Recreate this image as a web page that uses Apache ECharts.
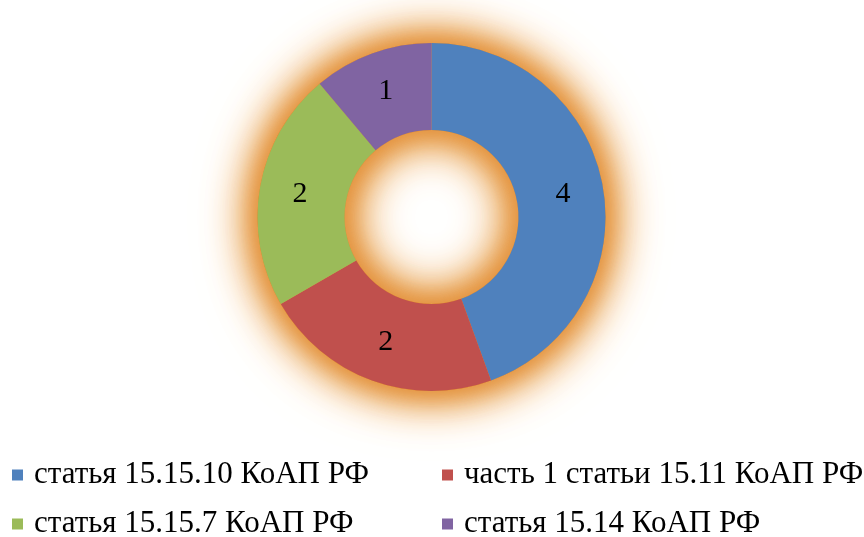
<!DOCTYPE html>
<html>
<head>
<meta charset="utf-8">
<script src="https://cdn.jsdelivr.net/npm/echarts@6/dist/echarts.min.js"></script>
<style>html,body{margin:0;padding:0;background:#fff;}#c{width:864px;height:537px;}</style>
</head>
<body>
<div id="c"></div>
<script>
const categories = ['статья 15.15.10 КоАП РФ', 'часть 1 статьи 15.11 КоАП РФ', 'статья 15.15.7 КоАП РФ', 'статья 15.14 КоАП РФ'];
const values = [4, 2, 2, 1];
const colors = ['#4F81BD', '#C0504D', '#9BBB59', '#8064A2'];

const chart = echarts.init(document.getElementById('c'));
const font = '"Liberation Serif", "Times New Roman", serif';
const legendPos = [[12, 459], [442, 459], [12, 508], [442, 508]];
const legends = categories.map((c, i) => ({
  data: [c], left: legendPos[i][0], top: legendPos[i][1], padding: 0,
  itemWidth: 11, itemHeight: 11, itemGap: 0, icon: 'rect',
  textStyle: { fontFamily: font, fontSize: 31, color: '#000', lineHeight: 32, padding: [0, 0, 0, 6] },
  selectedMode: false
}));
const glowRing = (blur, color) => ({
  type: 'pie', silent: true, z: 1, animation: false,
  center: [431.5, 217], radius: [87, 174], startAngle: 90, clockwise: true,
  label: { show: false }, labelLine: { show: false },
  data: [{ value: 1, name: '_glow', itemStyle: { color: 'rgb(228,145,55)', shadowBlur: blur, shadowColor: color } }]
});
chart.setOption({
  backgroundColor: '#fff',
  animation: false,
  legend: legends,
  series: [
    glowRing(60, 'rgba(236,175,100,1)'),
    glowRing(50, 'rgba(234,168,90,1)'),
    glowRing(40, 'rgba(232,160,80,1)'),
    glowRing(30, 'rgba(230,152,70,1)'),
    glowRing(18, 'rgba(226,145,60,0.9)'),
    {
      type: 'pie', z: 3, animation: false,
      center: [431.5, 217], radius: [87, 174], startAngle: 90, clockwise: true,
      avoidLabelOverlap: false,
      label: { show: true, position: 'inside', formatter: '{c}', fontFamily: font, fontSize: 30, color: '#000' },
      labelLine: { show: false },
      emphasis: { disabled: true },
      itemStyle: { borderWidth: 0 },
      data: categories.map((c, i) => ({ name: c, value: values[i], itemStyle: { color: colors[i] } }))
    }
  ]
});
</script>
</body>
</html>
